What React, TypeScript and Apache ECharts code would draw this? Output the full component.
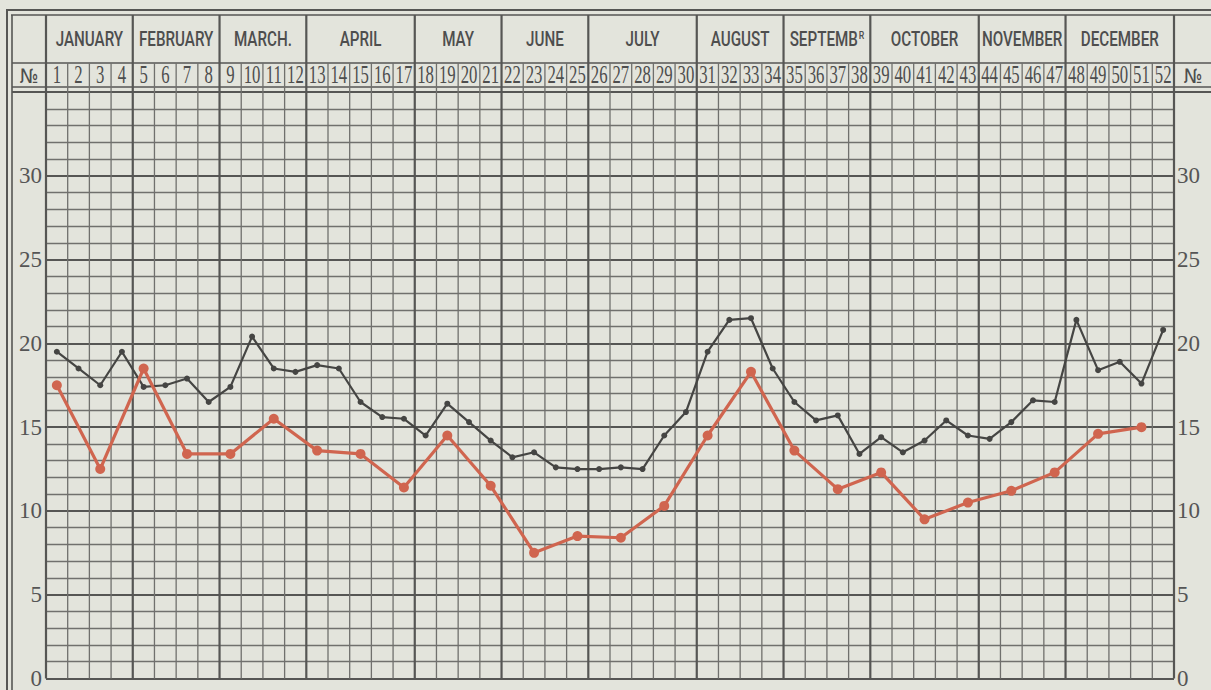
import React, { useEffect, useRef } from "react";
import * as echarts from "echarts";

const weekLabels = [
  "1", "2", "3", "4", "5", "6", "7", "8", "9", "10", "11", "12", "13",
  "14", "15", "16", "17", "18", "19", "20", "21", "22", "23", "24", "25", "26",
  "27", "28", "29", "30", "31", "32", "33", "34", "35", "36", "37", "38", "39",
  "40", "41", "42", "43", "44", "45", "46", "47", "48", "49", "50", "51", "52",
];

const monthLabels = [
  "JANUARY", "FEBRUARY", "MARCH.", "APRIL", "MAY", "JUNE", "JULY",
  "AUGUST", "SEPTEMB{s|R}", "OCTOBER", "NOVEMBER", "DECEMBER",
];
const monthWeekCounts = [4, 4, 4, 5, 4, 4, 5, 4, 4, 5, 4, 5];

const blackValues = [
  19.5, 18.5, 17.5, 19.5, 17.4, 17.5, 17.9, 16.5, 17.4, 20.4, 18.5, 18.3, 18.7,
  18.5, 16.5, 15.6, 15.5, 14.5, 16.4, 15.3, 14.2, 13.2, 13.5, 12.6, 12.5, 12.5,
  12.6, 12.5, 14.5, 15.9, 19.5, 21.4, 21.5, 18.5, 16.5, 15.4, 15.7, 13.4, 14.4,
  13.5, 14.2, 15.4, 14.5, 14.3, 15.3, 16.6, 16.5, 21.4, 18.4, 18.9, 17.6, 20.8,
];

const redWeeks = [
  "1", "3", "5", "7", "9", "11", "13", "15", "17", "19", "21", "23", "25",
  "27", "29", "31", "33", "35", "37", "39", "41", "43", "45", "47", "49", "51",
];
const redValues = [
  17.5, 12.5, 18.5, 13.4, 13.4, 15.5, 13.6, 13.4, 11.4, 14.5, 11.5, 7.5, 8.5,
  8.4, 10.3, 14.5, 18.3, 13.6, 11.3, 12.3, 9.5, 10.5, 11.2, 12.3, 14.6, 15.0,
];

const yMin = 0;
const yMax = 35;
const yStep = 5;

const BG = "#e3e4dc";
const THICK = "#565654";
const THIN = "#70706d";
const INK = "#4e4e4e";
const BLACK_LINE = "#454543";
const RED_LINE = "#d0654f";

export default function App() {
  const ref = useRef<HTMLDivElement>(null);

  useEffect(() => {
    if (!ref.current) return;
    const chart = echarts.init(ref.current, undefined, { renderer: "svg" });

    const monthBoundaries: number[] = [0];
    monthWeekCounts.forEach((c, i) => monthBoundaries.push(monthBoundaries[i] + c));
    const monthCenters = monthWeekCounts.map((c, i) => monthBoundaries[i] + c / 2);
    const weekBoundaries = weekLabels.map((_, i) => i).concat([weekLabels.length]);

    const vLines = (y0: number, y1: number, onlyMonths: boolean) => (params: any, api: any) => {
      const b = api.value(0);
      const isMonth = monthBoundaries.indexOf(b) >= 0;
      if (onlyMonths && !isMonth) return null;
      const p1 = api.coord([b, y0]);
      const p2 = api.coord([b, y1]);
      return {
        type: "line",
        shape: { x1: p1[0], y1: p1[1], x2: p2[0], y2: p2[1] },
        style: { stroke: isMonth ? THICK : THIN, lineWidth: isMonth ? 2.2 : 1.3 },
        silent: true,
      };
    };

    const hLine = (x1: number, y1: number, x2: number, y2: number, w: number) => ({
      type: "line",
      shape: { x1, y1, x2, y2 },
      style: { stroke: THICK, lineWidth: w },
      silent: true,
    });

    const yLabel = {
      show: true,
      fontFamily: "'Liberation Serif', 'DejaVu Serif', serif",
      fontSize: 23,
      color: "#555555",
      formatter: (v: number) => (v === yMax ? "" : String(v)),
    };

    const option: any = {
      animation: false,
      backgroundColor: BG,
      grid: [
        { left: 46, top: 92, width: 1128, height: 596 },
        { left: 46, top: 63, width: 1128, height: 29 },
        { left: 46, top: 15, width: 1128, height: 48 },
      ],
      xAxis: [
        { type: "category", gridIndex: 0, data: weekLabels, boundaryGap: true, show: false },
        { type: "value", gridIndex: 0, min: 0, max: 52, show: false },
        { type: "value", gridIndex: 1, min: 0, max: 52, show: false },
        { type: "value", gridIndex: 2, min: 0, max: 52, show: false },
      ],
      yAxis: [
        {
          type: "value", gridIndex: 0, position: "left", min: yMin, max: yMax, interval: yStep,
          axisLine: { show: false }, axisTick: { show: false },
          axisLabel: { ...yLabel, margin: 4 },
          splitLine: { show: true, lineStyle: { color: THICK, width: 2.2 } },
          minorTick: { show: false, splitNumber: 5 },
          minorSplitLine: { show: true, lineStyle: { color: THIN, width: 1.3 } },
        },
        {
          type: "value", gridIndex: 0, position: "right", min: yMin, max: yMax, interval: yStep,
          axisLine: { show: false }, axisTick: { show: false },
          axisLabel: { ...yLabel, margin: 3 },
          splitLine: { show: false },
        },
        { type: "value", gridIndex: 1, min: -0.2, max: 1, show: false },
        { type: "value", gridIndex: 2, min: 0, max: 1, show: false },
      ],
      graphic: [
        hLine(7, 10, 7, 690, 2),
        hLine(6, 10, 1211, 10, 2),
        hLine(12, 15, 12, 690, 1.6),
        hLine(11, 15, 1211, 15, 1.6),
        hLine(12, 63, 1211, 63, 1.6),
        hLine(12, 87, 1211, 87, 1.6),
        hLine(12, 92, 1211, 92, 2.2),
        {
          type: "text", x: 29, y: 76, silent: true, scaleY: 1.1,
          style: { text: "№", fontFamily: "'DejaVu Sans', sans-serif", fontSize: 18, fill: INK, align: "center", verticalAlign: "middle" },
        },
        {
          type: "text", x: 1193, y: 76, silent: true, scaleY: 1.1,
          style: { text: "№", fontFamily: "'DejaVu Sans', sans-serif", fontSize: 18, fill: INK, align: "center", verticalAlign: "middle" },
        },
      ],
      series: [
        {
          type: "custom", name: "weekGrid", xAxisIndex: 1, yAxisIndex: 0, z: 1, silent: true,
          data: weekBoundaries.map((b) => [b, 0]),
          renderItem: vLines(yMin, yMax, false),
        },
        {
          type: "custom", name: "weekHeadGrid", xAxisIndex: 2, yAxisIndex: 2, z: 1, silent: true,
          data: weekBoundaries.map((b) => [b, 0]),
          renderItem: vLines(-0.2, 1, false),
        },
        {
          type: "custom", name: "monthHeadGrid", xAxisIndex: 3, yAxisIndex: 3, z: 1, silent: true,
          data: weekBoundaries.map((b) => [b, 0]),
          renderItem: vLines(0, 1, true),
        },
        {
          type: "custom", name: "weekNumbers", xAxisIndex: 2, yAxisIndex: 2, z: 2, silent: true,
          data: weekLabels.map((_, i) => [i + 0.5, 0.5]),
          renderItem: (params: any, api: any) => {
            const p = api.coord([api.value(0), api.value(1)]);
            return {
              type: "text", x: p[0], y: p[1], scaleX: 0.88, scaleY: 1.35, silent: true,
              style: {
                text: weekLabels[params.dataIndex],
                fontFamily: "'Liberation Serif', 'DejaVu Serif', serif",
                fontSize: 19, fill: INK, align: "center", verticalAlign: "middle",
              },
            };
          },
        },
        {
          type: "custom", name: "monthNames", xAxisIndex: 3, yAxisIndex: 3, z: 2, silent: true,
          data: monthCenters.map((c) => [c, 0.5]),
          renderItem: (params: any, api: any) => {
            const p = api.coord([api.value(0), api.value(1)]);
            return {
              type: "text", x: p[0], y: p[1], scaleX: 0.8, scaleY: 1.05, silent: true,
              style: {
                text: monthLabels[params.dataIndex],
                fontFamily: "Roboto, 'DejaVu Sans', sans-serif",
                fontWeight: 500,
                fontSize: 19, fill: INK, align: "center", verticalAlign: "middle",
                rich: {
                  s: {
                    fontFamily: "Roboto, 'DejaVu Sans', sans-serif",
                    fontWeight: 500, fontSize: 11, fill: INK,
                    verticalAlign: "top", padding: [0, 0, 8, 1],
                  },
                },
              },
            };
          },
        },
        {
          type: "line", name: "black", xAxisIndex: 0, yAxisIndex: 0, z: 3,
          data: blackValues,
          symbol: "circle", symbolSize: 6,
          lineStyle: { color: BLACK_LINE, width: 2.2 },
          itemStyle: { color: BLACK_LINE },
        },
        {
          type: "line", name: "red", xAxisIndex: 0, yAxisIndex: 0, z: 4,
          data: redWeeks.map((w, i) => [w, redValues[i]]),
          symbol: "circle", symbolSize: 10,
          lineStyle: { color: RED_LINE, width: 3.2 },
          itemStyle: { color: RED_LINE },
        },
      ],
    };

    chart.setOption(option);
    return () => chart.dispose();
  }, []);

  return (
    <div
      ref={ref}
      style={{ position: "fixed", left: 0, top: 0, width: 1211, height: 690, background: BG }}
    />
  );
}
